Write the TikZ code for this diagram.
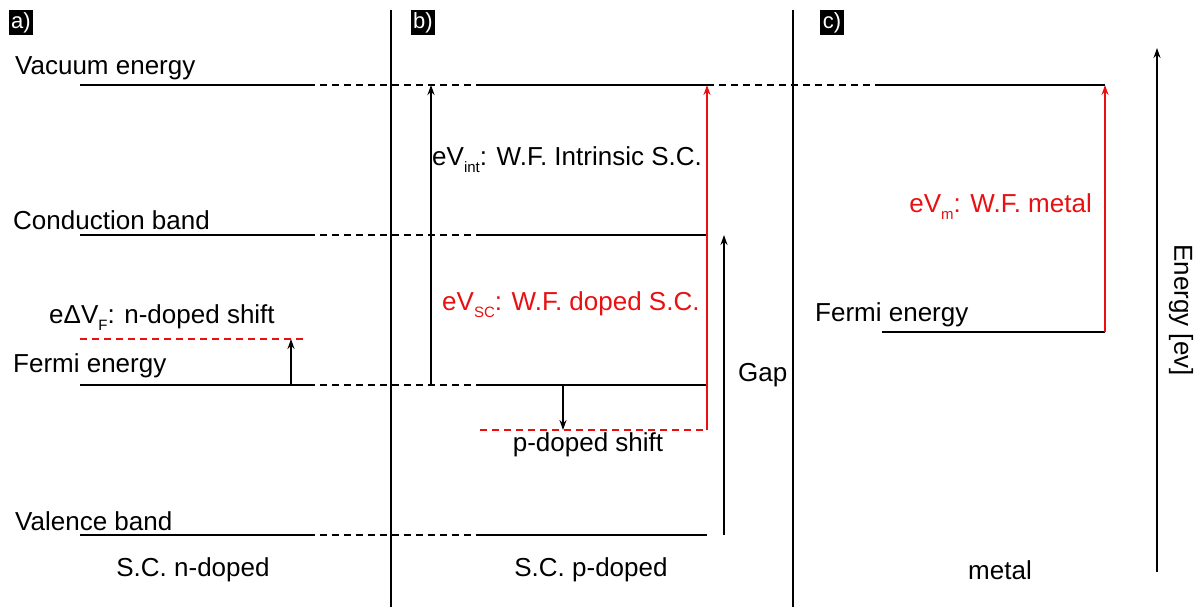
\documentclass[tikz,border=0pt]{standalone}
\usepackage{fontspec}
\setmainfont{Liberation Sans}
\usetikzlibrary{arrows.meta}
\newcommand\lowsub[1]{\raisebox{-0.5ex}{\fontsize{15}{15}\selectfont #1}}
\definecolor{wfred}{RGB}{232,16,16}
\begin{document}
\begin{tikzpicture}[x=1pt,y=-1pt,
  lvl/.style={line width=2.6pt},
  dsh/.style={line width=2.6pt, dash pattern=on 7pt off 5pt},
  rdsh/.style={wfred, line width=2.4pt, dash pattern=on 7pt off 5pt},
  arr/.style={line width=2pt, -{Stealth[length=10pt,width=7pt]}},
  rarr/.style={arr, wfred},
  lbl/.style={font=\fontsize{26}{30}\selectfont, inner sep=0pt},
  tag/.style={fill=black, text=white, font=\fontsize{22}{22}\selectfont, inner sep=0pt, minimum width=24pt, minimum height=25pt},
  divider/.style={line width=2.6pt}]
\useasboundingbox (0,0) rectangle (1196,607);

% panel tags
\node[tag] (ta) at (21,23) {a)};
\node[tag] (tb) at (423,23) {b)};
\node[tag] (tc) at (832,23) {c)};

% dividers
\coordinate (d1t) at (391,10); \coordinate (d1b) at (391,607);
\coordinate (d2t) at (793,10); \coordinate (d2b) at (793,607);
\draw[divider] (d1t) -- (d1b);
\draw[divider] (d2t) -- (d2b);

% vacuum level
\coordinate (va1) at (80,85); \coordinate (va2) at (308,85);
\coordinate (vb1) at (480,85); \coordinate (vb2) at (707,85);
\coordinate (vc1) at (880,85); \coordinate (vc2) at (1105,85);
\draw[lvl] (va1) -- (va2);
\draw[dsh] (va2) -- (vb1);
\draw[lvl] (vb1) -- (vb2);
\draw[dsh] (vb2) -- (vc1);
\draw[lvl] (vc1) -- (vc2);

% conduction band
\coordinate (ca1) at (80,235); \coordinate (ca2) at (308,235);
\coordinate (cb1) at (480,235); \coordinate (cb2) at (707,235);
\draw[lvl] (ca1) -- (ca2);
\draw[dsh] (ca2) -- (cb1);
\draw[lvl] (cb1) -- (cb2);

% Fermi level (intrinsic)
\coordinate (fa1) at (80,385); \coordinate (fa2) at (308,385);
\coordinate (fb1) at (480,385); \coordinate (fb2) at (707,385);
\draw[lvl] (fa1) -- (fa2);
\draw[dsh] (fa2) -- (fb1);
\draw[lvl] (fb1) -- (fb2);

% valence band
\coordinate (wa1) at (80,535); \coordinate (wa2) at (308,535);
\coordinate (wb1) at (480,535); \coordinate (wb2) at (707,535);
\draw[lvl] (wa1) -- (wa2);
\draw[dsh] (wa2) -- (wb1);
\draw[lvl] (wb1) -- (wb2);

% doped shifts
\coordinate (na1) at (80,339); \coordinate (na2) at (305,339);
\draw[rdsh] (na1) -- (na2);
\coordinate (pb1) at (480,430); \coordinate (pb2) at (707,430);
\draw[rdsh] (pb1) -- (pb2);

% metal Fermi level
\coordinate (mf1) at (882,332); \coordinate (mf2) at (1105,332);
\draw[lvl] (mf1) -- (mf2);

% arrows
\coordinate (nsA) at (291,385); \coordinate (nsB) at (291,339);
\draw[arr] (nsA) -- (nsB);
\coordinate (intA) at (431,385); \coordinate (intB) at (431,85);
\draw[arr] (intA) -- (intB);
\coordinate (scA) at (707,430); \coordinate (scB) at (707,85);
\draw[rarr] (scA) -- (scB);
\coordinate (psA) at (563,385); \coordinate (psB) at (563,430);
\draw[arr] (psA) -- (psB);
\coordinate (gapA) at (724,535); \coordinate (gapB) at (724,235);
\draw[arr] (gapA) -- (gapB);
\coordinate (mA) at (1105,332); \coordinate (mB) at (1105,85);
\draw[rarr] (mA) -- (mB);
\coordinate (eA) at (1157,572); \coordinate (eB) at (1157,48);
\draw[arr] (eA) -- (eB);

% labels panel a
\node[lbl, anchor=west] (lvac) at (15,68) {Vacuum energy};
\node[lbl, anchor=west] (lcond) at (13,220) {Conduction band};
\node[lbl, anchor=west] (lnshift) at (49,318) {eΔV\lowsub{F}: n-doped shift};
\node[lbl, anchor=west] (lferma) at (13,366) {Fermi energy};
\node[lbl, anchor=west] (lval) at (15,521) {Valence band};
\node[lbl] (lscn) at (193,570) {S.C. n-doped};

% labels panel b
\node[lbl, anchor=west] (lint) at (432,160) {eV\lowsub{int}: W.F. Intrinsic S.C.};
\node[lbl, anchor=west, text=wfred] (lsc) at (442,305) {eV\lowsub{SC}: W.F. doped S.C.};
\node[lbl] (lpshift) at (588,445) {p-doped shift};
\node[lbl] (lscp) at (591,570) {S.C. p-doped};
\node[lbl, anchor=west] (lgap) at (738,375) {Gap};

% labels panel c
\node[lbl, anchor=east, text=wfred] (lm) at (1092,207) {eV\lowsub{m}: W.F. metal};
\node[lbl, anchor=west] (lfermc) at (815,315) {Fermi energy};
\node[lbl] (lmetal) at (1000,570) {metal};
\node[lbl, rotate=-90] (lenergy) at (1181,310) {Energy [ev]};
\end{tikzpicture}
\end{document}
